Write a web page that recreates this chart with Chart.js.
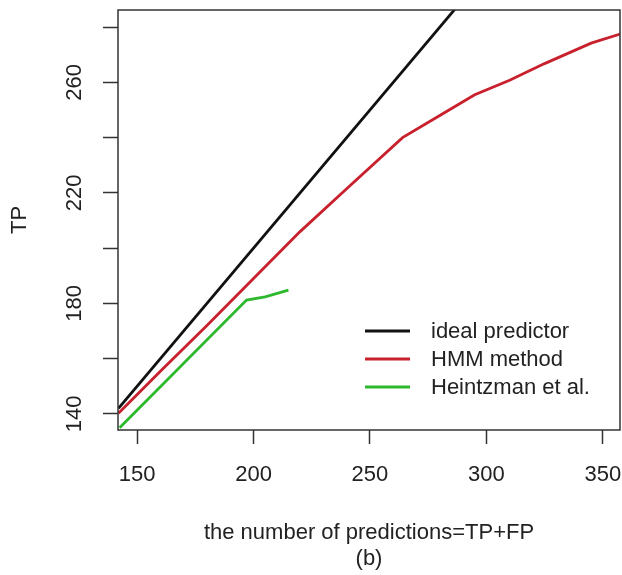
<!DOCTYPE html>
<html>
<head>
<meta charset="utf-8">
<script src="https://cdn.jsdelivr.net/npm/chart.js@4/dist/chart.umd.min.js"></script>
<style>
  body { margin: 0; background: #fff; }
  canvas { display: block; }
</style>
</head>
<body>
<canvas id="tp_canvas" width="622" height="575"></canvas>
<script>
// data
var idealX = [142, 290];
var idealY = [142, 290];
var hmmX = [142, 160, 180, 200, 220, 240, 264, 280, 295, 310, 325, 345, 357.5];
var hmmY = [140.3, 155.5, 172, 189, 206, 221.5, 240, 248, 255.5, 260.8, 266.8, 274.2, 277.5];
var heintzX = [142.5, 197, 205, 215];
var heintzY = [135, 181.2, 182.4, 184.8];

var seriesLabels = ['ideal predictor', 'HMM method', 'Heintzman et al.'];
var xTickValues = [150, 200, 250, 300, 350];
var yTickValues = [140, 160, 180, 200, 220, 240, 260, 280];
var yTickLabels = [140, 180, 220, 260];

var FONT = '"Liberation Sans", Arial, sans-serif';
var INK = '#222';

function toPoints(xs, ys) {
    var pts = [];
    for (var i = 0; i < xs.length; i++) {
        pts.push({x: xs[i], y: ys[i]});
    }
    return pts;
}

// box round the plot + legend inside it (R style, no legend frame)
var boxAndLegend = {
    id: 'boxAndLegend',
    afterDraw: function (chart) {
        var ctx = chart.ctx;
        var a = chart.chartArea;
        ctx.save();
        ctx.strokeStyle = '#333';
        ctx.lineWidth = 1.5;
        ctx.strokeRect(a.left, a.top, a.right - a.left, a.bottom - a.top);

        ctx.font = '22px ' + FONT;
        ctx.textBaseline = 'middle';
        ctx.textAlign = 'left';
        chart.data.datasets.forEach(function (ds, i) {
            var y = a.bottom - 99 + i * 28;
            ctx.strokeStyle = ds.borderColor;
            ctx.lineWidth = 2.8;
            ctx.beginPath();
            ctx.moveTo(a.right - 255, y);
            ctx.lineTo(a.right - 210, y);
            ctx.stroke();
            ctx.fillStyle = INK;
            ctx.fillText(ds.label, a.right - 189, y + 1);
        });
        ctx.restore();
    }
};

var ChartData = {
    datasets: [
        {
            label: seriesLabels[0],
            data: toPoints(idealX, idealY),
            borderColor: '#111111',
            borderWidth: 2.8,
            order: 3
        },
        {
            label: seriesLabels[1],
            data: toPoints(hmmX, hmmY),
            borderColor: '#c8202c',
            borderWidth: 2.8,
            order: 2
        },
        {
            label: seriesLabels[2],
            data: toPoints(heintzX, heintzY),
            borderColor: '#2db82d',
            borderWidth: 2.8,
            order: 1
        }
    ]
};

var ChartOption = {
    responsive: false,
    animation: false,
    clip: 0,
    layout: {
        padding: {left: 0, right: 2, top: 10, bottom: 0}
    },
    elements: {
        point: { radius: 0 },
        line: { tension: 0, fill: false }
    },
    plugins: {
        legend: { display: false },
        tooltip: { enabled: false }
    },
    scales: {
        x: {
            type: 'linear',
            min: 141.8,
            max: 357.4,
            afterBuildTicks: function (scale) {
                scale.ticks = xTickValues.map(function (v) { return {value: v}; });
            },
            afterFit: function (scale) {
                scale.height = 145;
                scale.paddingLeft = 0;
                scale.paddingRight = 0;
            },
            border: { display: false },
            grid: {
                drawOnChartArea: false,
                drawTicks: true,
                tickLength: 14,
                tickColor: '#333',
                tickWidth: 1.5
            },
            ticks: {
                autoSkip: false,
                maxRotation: 0,
                padding: 18,
                color: INK,
                font: { family: FONT, size: 22 }
            },
            title: {
                display: true,
                text: ['the number of predictions=TP+FP', '(b)'],
                color: INK,
                font: { family: FONT, size: 22, lineHeight: 1.14 },
                padding: { top: 0, bottom: 4 }
            }
        },
        y: {
            type: 'linear',
            min: 134.2,
            max: 286.2,
            afterBuildTicks: function (scale) {
                scale.ticks = yTickValues.map(function (v) { return {value: v}; });
            },
            afterFit: function (scale) {
                scale.width = 118;
                scale.paddingTop = 0;
                scale.paddingBottom = 0;
            },
            border: { display: false },
            grid: {
                drawOnChartArea: false,
                drawTicks: true,
                tickLength: 15,
                tickColor: '#333',
                tickWidth: 1.5
            },
            ticks: {
                autoSkip: false,
                minRotation: 90,
                maxRotation: 90,
                crossAlign: 'center',
                padding: 10,
                color: INK,
                font: { family: FONT, size: 22 },
                callback: function (value) {
                    return yTickLabels.indexOf(value) >= 0 ? String(value) : '';
                }
            },
            title: {
                display: true,
                text: 'TP',
                color: INK,
                font: { family: FONT, size: 22 },
                padding: { top: 7, bottom: 0 }
            }
        }
    }
};

var tp_canvas = document.getElementById('tp_canvas');
var ctx = tp_canvas.getContext('2d');
var myChart = new Chart(ctx, {
    type: 'line',
    data: ChartData,
    options: ChartOption,
    plugins: [boxAndLegend]
});
</script>
</body>
</html>
